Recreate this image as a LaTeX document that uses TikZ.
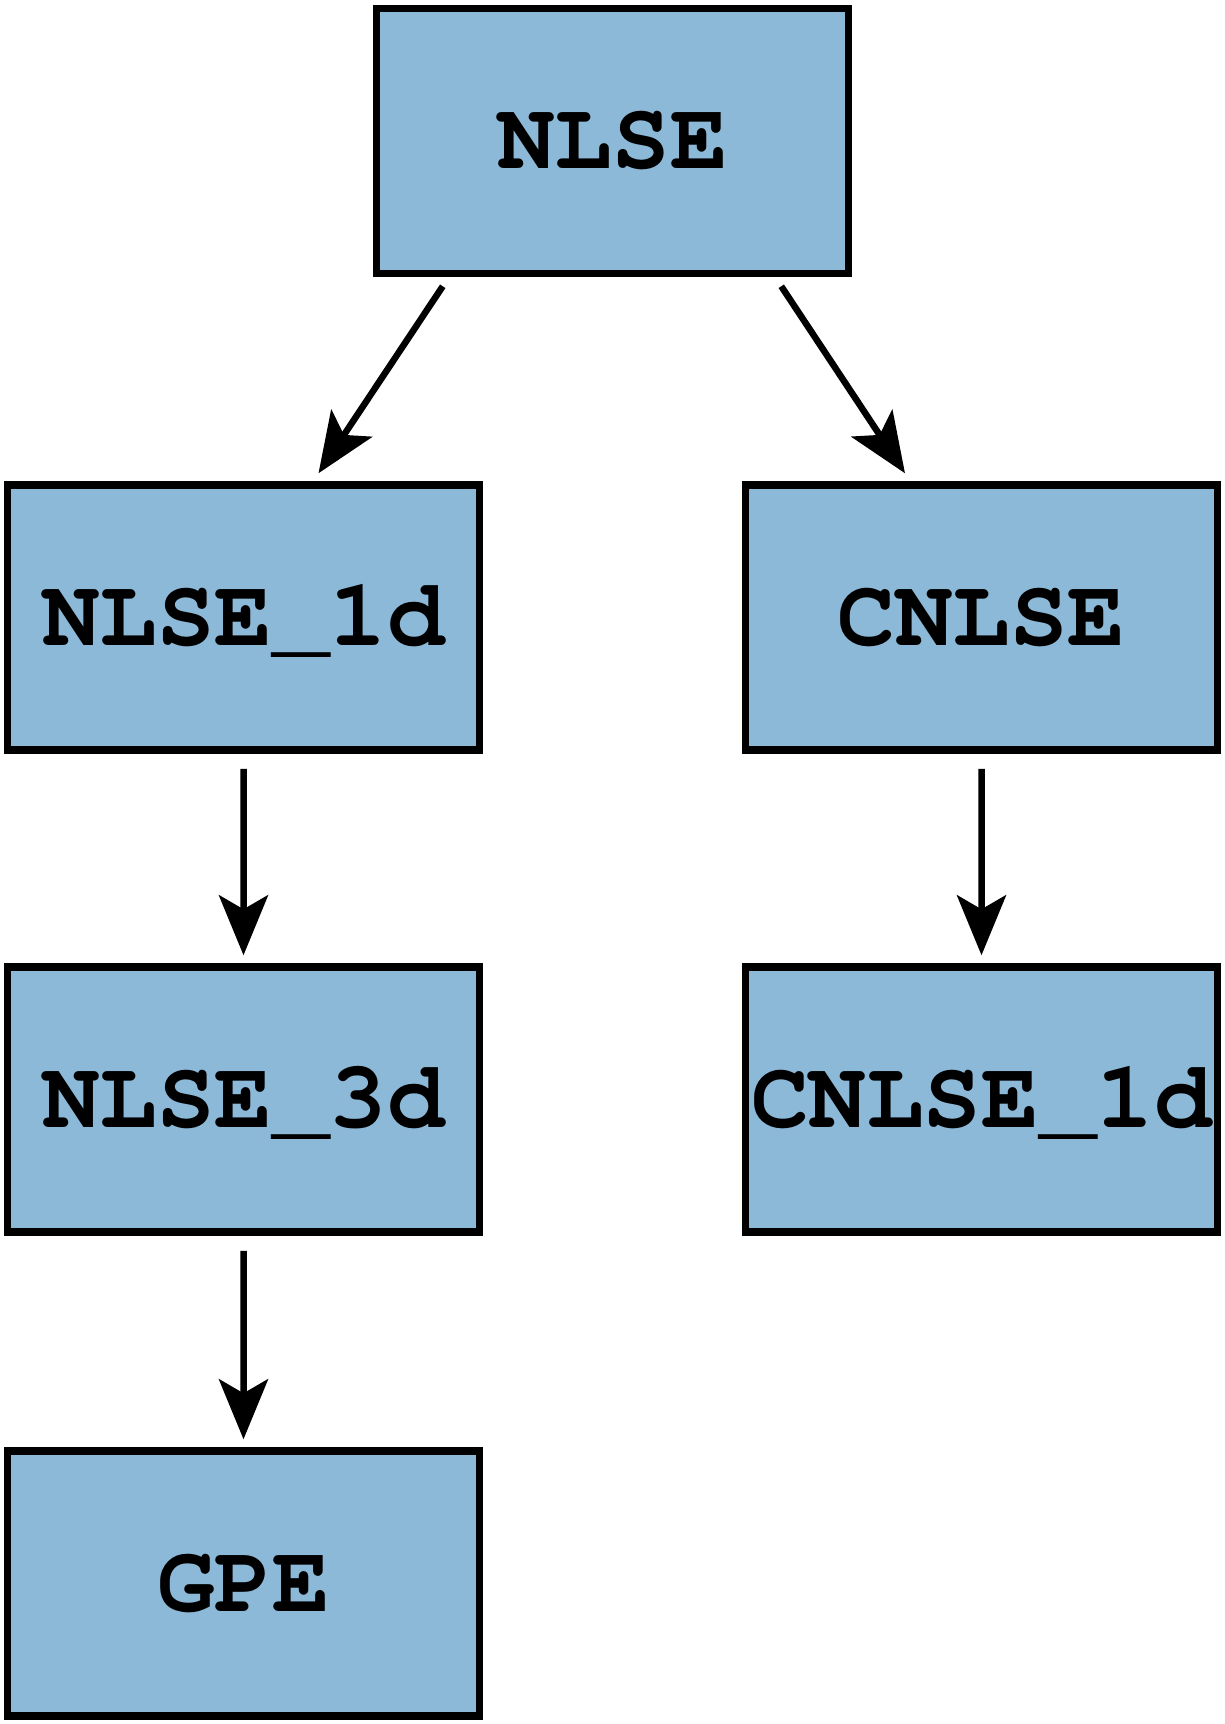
\documentclass[tikz,border=0pt]{standalone}
\usepackage{xcolor}
\usepackage{tikz}
\usetikzlibrary{arrows.meta, positioning, calc}
\definecolor{boxblue}{RGB}{141,185,216}
\tikzset{
  modbox/.style={
    draw, line width=0.15cm, fill=boxblue, align=center,
    minimum width=9.44cm, minimum height=5.3cm, inner sep=0pt,
    text height=1.1cm, text depth=0pt,
    font=\fontencoding{T1}\fontfamily{pcr}\fontseries{b}\fontsize{54.6}{60}\selectfont
  },
  modarrow/.style={
    -{Stealth[length=1.2cm, width=0.98cm, inset=0.28cm]}, line width=0.13cm
  },
  vertedge/.style={
    edge from parent path={([yshift=-0.3cm]\tikzparentnode.south) -- ([yshift=0.16cm]\tikzchildnode.north)}
  },
}
\begin{document}
\begin{tikzpicture}[
  level 1/.style={sibling distance=14.76cm, level distance=9.53cm},
  level 2/.style={level distance=9.64cm, vertedge},
  level 3/.style={level distance=9.68cm, vertedge},
  edge from parent/.style={draw, modarrow},
]
  \useasboundingbox (0,0) rectangle (24.5,-34.48);

  \node[modbox] (nlse) at (12.25,-2.82) {NLSE}
    child[edge from parent path={($(\tikzparentnode.south west)+(1.4,-0.18)$) -- ($(\tikzchildnode.north)+(1.5,0.16)$)}] {
      node[modbox] (nlse1d) {NLSE\_1d}
      child {
        node[modbox] (nlse3d) {NLSE\_3d}
        child {
          node[modbox] (gpe) {GPE}
        }
      }
    }
    child[edge from parent path={($(\tikzparentnode.south east)+(-1.42,-0.18)$) -- ($(\tikzchildnode.north)+(-1.53,0.16)$)}] {
      node[modbox] (cnlse) {CNLSE}
      child {
        node[modbox] (cnlse1d) {CNLSE\_1d}
      }
    };
\end{tikzpicture}
\end{document}
